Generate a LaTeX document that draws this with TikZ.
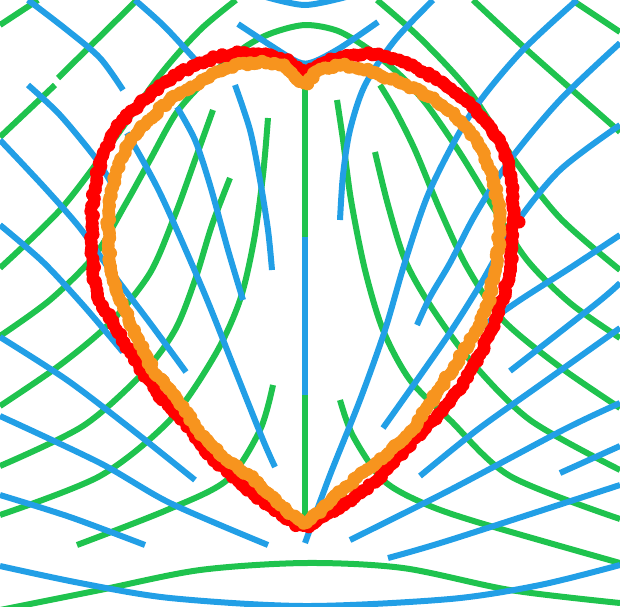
\documentclass[tikz,border=0pt]{standalone}
\usetikzlibrary{decorations.markings}
\definecolor{gcurve}{HTML}{1FC34E}
\definecolor{bcurve}{HTML}{229FE6}
\definecolor{hfit}{HTML}{F7941E}

\begin{document}
\begin{tikzpicture}[x=1pt,y=-1pt,
		gline/.style={gcurve, line width=6pt},
		bline/.style={bcurve, line width=6pt},
		dotband/.style={decorate, decoration={markings,
			mark=between positions 0 and 1 step 4pt with {\fill[#1] ({1.5*rand},{1.5*rand}) circle (6.5pt);}}}]
		\pgfmathsetseed{7}
		\useasboundingbox (0,0) rectangle (620,606);
		\clip (0,0) rectangle (620,606);
		%% The green curves
		\draw[gline] (0,25) -- (38,0);
		\draw[gline] (0,137) -- (55,85);
		\draw[gline] (58,78) -- (137,0);
		\draw[gline] plot[smooth] coordinates {(0,268) (60,210) (110,145) (160,75) (200,30) (236,0)};
		\draw[gline] plot[smooth] coordinates {(0,336) (50,300) (95,255) (125,205) (150,160) (177,112) (210,76) (245,47) (272,33) (305,25) (338,31) (370,50) (400,75) (427,105) (460,153) (493,207) (527,260) (570,303) (620,338)};
		\draw[gline] plot[smooth] coordinates {(0,406) (60,365) (110,323) (150,273) (175,215) (195,160) (213,110)};
		\draw[gline] plot[smooth] coordinates {(620,408) (560,367) (503,320) (467,267) (440,210) (415,150) (395,110) (380,85)};
		\draw[gline] plot[smooth] coordinates {(0,466) (83,426) (143,373) (175,330) (195,280) (212,225) (230,178)};
		\draw[gline] plot[smooth] coordinates {(620,470) (530,420) (470,360) (430,305) (405,260) (388,205) (375,152)};
		\draw[gline] plot[smooth] coordinates {(0,515) (100,476) (170,420) (215,355) (240,300) (254,240) (263,175) (268,118)};
		\draw[gline] plot[smooth] coordinates {(620,519) (510,476) (450,420) (410,380) (383,330) (365,270) (351,200) (343,140) (337,100)};
		\draw[gline] plot[smooth] coordinates {(77,545) (167,510) (227,480) (260,430) (273,385)};
		\draw[gline] plot[smooth] coordinates {(340,400) (353,436) (383,480) (423,503) (477,522) (620,563)};
		\draw[gline] plot[smooth] coordinates {(0,610) (100,590) (200,570) (305,563) (403,568) (510,590) (620,603)};
		\draw[gline] (572,0) -- (620,32);
		\draw[gline] plot[smooth] coordinates {(473,0) (527,50) (620,132)};
		\draw[gline] plot[smooth] coordinates {(377,0) (420,38) (470,92) (513,158) (560,218) (620,270)};
		\draw[gline] (305,86) -- (305,237);
		\draw[gline] (305,395) -- (305,518);
		%% The blue curves
		\draw[bline] plot[smooth] coordinates {(266,-3) (305,5) (346,-3)};
		\draw[bline] plot[smooth] coordinates {(238,24) (270,45) (298,62) (313,62) (340,48) (378,22)};
		\draw[bline] plot[smooth] coordinates {(28,0) (67,30) (100,58) (123,90)};
		\draw[bline] plot[smooth] coordinates {(135,0) (165,27) (200,65)};
		\draw[bline] plot[smooth] coordinates {(28,85) (60,115) (97,160) (115,190)};
		\draw[bline] plot[smooth] coordinates {(0,140) (45,188) (80,228) (110,270) (150,323) (186,372)};
		\draw[bline] plot[smooth] coordinates {(0,225) (43,262) (83,305) (123,352)};
		\draw[bline] plot[smooth] coordinates {(0,337) (67,380) (130,428) (195,480)};
		\draw[bline] plot[smooth] coordinates {(0,416) (100,463) (170,503) (268,545)};
		\draw[bline] plot[smooth] coordinates {(0,495) (70,517) (145,545)};
		\draw[bline] plot[smooth] coordinates {(0,566) (80,583) (170,598) (305,606) (450,599) (540,585) (620,565)};
		\draw[bline] plot[smooth] coordinates {(127,133) (160,193) (203,290) (235,370) (263,440) (275,467)};
		\draw[bline] plot[smooth] coordinates {(177,107) (195,140) (210,185) (228,250) (243,300)};
		\draw[bline] plot[smooth] coordinates {(235,85) (250,130) (260,180) (268,230) (272,270)};
		\draw[bline] (305,237) -- (305,395);
		\draw[bline] plot[smooth] coordinates {(433,0) (395,40) (365,85) (350,130) (343,175) (340,220)};
		\draw[bline] plot[smooth] coordinates {(577,0) (520,53) (470,115) (430,190) (405,262) (385,330) (360,400) (330,475) (305,543)};
		\draw[bline] plot[smooth] coordinates {(620,43) (560,100) (510,160) (475,215) (450,263) (430,297) (417,325)};
		\draw[bline] plot[smooth] coordinates {(620,125) (560,170) (515,225) (480,285) (445,340) (383,428)};
		\draw[bline] plot[smooth] coordinates {(620,235) (570,268) (520,300) (480,328)};
		\draw[bline] plot[smooth] coordinates {(620,283) (597,303) (510,371)};
		\draw[bline] plot[smooth] coordinates {(620,328) (540,385) (477,430) (420,476)};
		\draw[bline] plot[smooth] coordinates {(620,403) (563,430) (450,490) (350,540)};
		\draw[bline] plot[smooth] coordinates {(620,485) (450,540) (388,558)};
		\draw[bline] (620,446) -- (560,473);
		%% The heart, measured (red) and fitted (orange)
		\path[dotband=red] plot[smooth cycle] coordinates {(305,72) (292,63) (270,56) (240,53) (218,57) (195,65) (173,77) (155,91) (133,110) (117,128) (105,150) (98,172) (93,200) (92,232) (93,267) (98,295) (110,318) (124,342) (141,369) (160,396) (185,423) (210,455) (235,478) (258,497) (282,515) (305,527) (330,512) (357,496) (385,472) (420,433) (448,405) (470,372) (487,340) (500,307) (510,270) (513,230) (512,185) (506,157) (492,130) (470,104) (440,81) (410,65) (383,56) (360,54) (340,57) (322,64)};
		\fill[red] (519,222) circle (6.5pt);
		\path[dotband=hfit] plot[smooth cycle] coordinates {(305,84) (292,73) (278,64) (250,63) (222,70) (193,86) (170,100) (150,119) (133,138) (120,162) (112,188) (108,222) (110,260) (114,283) (121,300) (134,331) (153,369) (177,400) (200,432) (223,456) (247,474) (270,494) (290,513) (305,523) (320,511) (336,496) (358,477) (383,457) (410,432) (440,388) (460,357) (477,330) (487,306) (492,285) (497,260) (500,222) (497,198) (490,170) (477,143) (460,121) (437,101) (410,87) (380,75) (350,66) (323,68) (312,77)};
	\end{tikzpicture}
\end{document}
